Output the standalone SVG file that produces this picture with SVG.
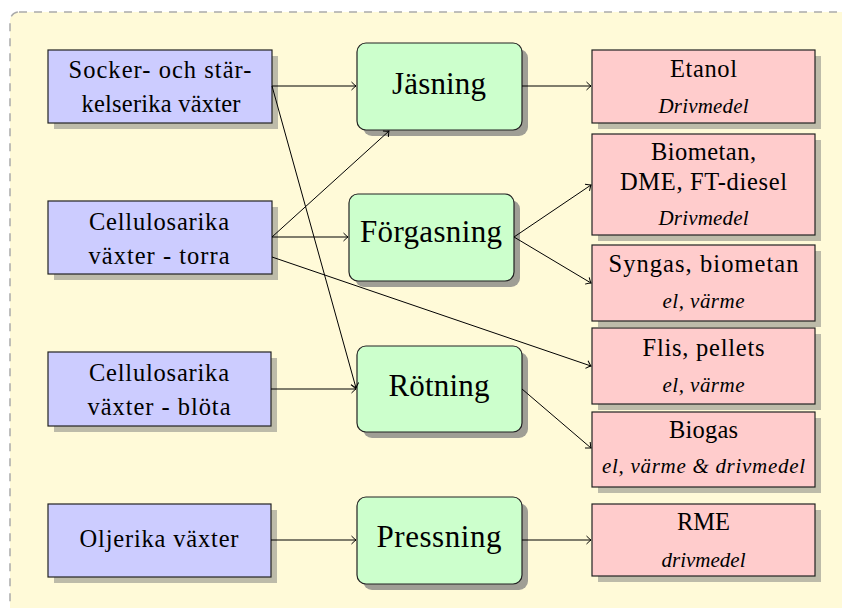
<svg xmlns="http://www.w3.org/2000/svg" width="842" height="608" viewBox="0 0 842 608">
<defs>
<style>
.bg{fill:#fffad8;stroke:#aaaaaa;stroke-width:1.5;stroke-dasharray:8 7}
.sh{fill:#bdbba9}
.shg{fill:#9f9e95}
.src{fill:#ccccff;stroke:#222;stroke-width:1.2}
.proc{fill:#ccffcc;stroke:#222;stroke-width:1.2}
.prod{fill:#ffcccc;stroke:#222;stroke-width:1.2}
text{font-family:"Liberation Serif","Times New Roman",serif;fill:#000;text-anchor:middle}
.t{font-size:24.5px}
.tg{font-size:31px}
.ti{font-size:21px;font-style:italic}
.c line{stroke:#000;stroke-width:1;fill:none;marker-end:url(#arr)}
</style>
<marker id="arr" markerUnits="userSpaceOnUse" markerWidth="12" markerHeight="12" refX="0" refY="0" viewBox="-6 -6 12 12" orient="auto">
<path d="M-4.5,-4 Q-1.5,-1 0,0 Q-1.5,1 -4.5,4" fill="none" stroke="#000" stroke-width="1"/>
</marker>
</defs>
<rect class="bg" x="10" y="12" width="860" height="630" rx="9"/>

<g id="n-socker">
<rect class="sh" x="54" y="56" width="224" height="73"/>
<rect class="src" x="48" y="50" width="224" height="73"/>
<text class="t" x="160" y="78" textLength="183" lengthAdjust="spacing">Socker- och stär-</text>
<text class="t" x="161" y="112" textLength="159" lengthAdjust="spacing">kelserika växter</text>
</g>
<g id="n-torra">
<rect class="sh" x="54" y="207" width="224" height="73"/>
<rect class="src" x="48" y="201" width="224" height="73"/>
<text class="t" x="159" y="230" textLength="140" lengthAdjust="spacing">Cellulosarika</text>
<text class="t" x="159" y="264" textLength="141" lengthAdjust="spacing">växter - torra</text>
</g>
<g id="n-blota">
<rect class="sh" x="54" y="358" width="223" height="74"/>
<rect class="src" x="48" y="352" width="223" height="74"/>
<text class="t" x="159" y="381" textLength="140" lengthAdjust="spacing">Cellulosarika</text>
<text class="t" x="159" y="415" textLength="143" lengthAdjust="spacing">växter - blöta</text>
</g>
<g id="n-olje">
<rect class="sh" x="54" y="510" width="223" height="73"/>
<rect class="src" x="48" y="504" width="223" height="73"/>
<text class="t" x="159" y="547" textLength="159" lengthAdjust="spacing">Oljerika växter</text>
</g>

<g id="n-jasning">
<rect class="shg" x="363" y="49" width="165" height="87" rx="9"/>
<rect class="proc" x="357" y="43" width="165" height="87" rx="9"/>
<text class="tg" x="439" y="94" textLength="94" lengthAdjust="spacing">Jäsning</text>
</g>
<g id="n-forgasning">
<rect class="shg" x="355" y="200" width="165" height="87" rx="9"/>
<rect class="proc" x="349" y="194" width="165" height="87" rx="9"/>
<text class="tg" x="431" y="242" textLength="142" lengthAdjust="spacing">Förgasning</text>
</g>
<g id="n-rotning">
<rect class="shg" x="363" y="352" width="165" height="86" rx="9"/>
<rect class="proc" x="357" y="346" width="165" height="86" rx="9"/>
<text class="tg" x="439" y="396" textLength="101" lengthAdjust="spacing">Rötning</text>
</g>
<g id="n-pressning">
<rect class="shg" x="363" y="503" width="165" height="87" rx="9"/>
<rect class="proc" x="357" y="497" width="165" height="87" rx="9"/>
<text class="tg" x="439" y="547" textLength="125" lengthAdjust="spacing">Pressning</text>
</g>

<g id="n-etanol">
<rect class="sh" x="598" y="56" width="223" height="73"/>
<rect class="prod" x="592" y="50" width="223" height="73"/>
<text class="t" x="703.5" y="77" textLength="67" lengthAdjust="spacing">Etanol</text>
<text class="ti" x="703.5" y="113" textLength="90" lengthAdjust="spacing">Drivmedel</text>
</g>
<g id="n-biometan">
<rect class="sh" x="598" y="140" width="223" height="101"/>
<rect class="prod" x="592" y="134" width="223" height="101"/>
<text class="t" x="703.5" y="160" textLength="105" lengthAdjust="spacing">Biometan,</text>
<text class="t" x="703.5" y="190" textLength="167" lengthAdjust="spacing">DME, FT-diesel</text>
<text class="ti" x="703.5" y="225" textLength="90" lengthAdjust="spacing">Drivmedel</text>
</g>
<g id="n-syngas">
<rect class="sh" x="598" y="251" width="223" height="76"/>
<rect class="prod" x="592" y="245" width="223" height="76"/>
<text class="t" x="703.5" y="272" textLength="190" lengthAdjust="spacing">Syngas, biometan</text>
<text class="ti" x="703.5" y="308" textLength="82" lengthAdjust="spacing">el, värme</text>
</g>
<g id="n-flis">
<rect class="sh" x="598" y="334" width="223" height="76"/>
<rect class="prod" x="592" y="328" width="223" height="76"/>
<text class="t" x="703.5" y="356" textLength="122" lengthAdjust="spacing">Flis, pellets</text>
<text class="ti" x="703.5" y="392" textLength="82" lengthAdjust="spacing">el, värme</text>
</g>
<g id="n-biogas">
<rect class="sh" x="598" y="418" width="223" height="75"/>
<rect class="prod" x="592" y="412" width="223" height="75"/>
<text class="t" x="703.5" y="438" textLength="69" lengthAdjust="spacing">Biogas</text>
<text class="ti" x="703.5" y="473" textLength="203" lengthAdjust="spacing">el, värme &amp; drivmedel</text>
</g>
<g id="n-rme">
<rect class="sh" x="598" y="510" width="223" height="72"/>
<rect class="prod" x="592" y="504" width="223" height="72"/>
<text class="t" x="703.5" y="530" textLength="53" lengthAdjust="spacing">RME</text>
<text class="ti" x="703.5" y="567" textLength="84" lengthAdjust="spacing">drivmedel</text>
</g>

<g class="c" id="connectors">
<line x1="272" y1="86" x2="356" y2="86"/>
<line x1="272" y1="86" x2="356" y2="388"/>
<line x1="272" y1="237" x2="389" y2="131"/>
<line x1="272" y1="237" x2="348" y2="237"/>
<line x1="272" y1="257" x2="591" y2="366"/>
<line x1="271" y1="389" x2="356" y2="389"/>
<line x1="271" y1="540" x2="356" y2="540"/>
<line x1="522" y1="86" x2="591" y2="86"/>
<line x1="514" y1="237" x2="591" y2="185"/>
<line x1="514" y1="237" x2="591" y2="283"/>
<line x1="522" y1="389" x2="591" y2="448"/>
<line x1="522" y1="540" x2="591" y2="540"/>
</g>
</svg>
